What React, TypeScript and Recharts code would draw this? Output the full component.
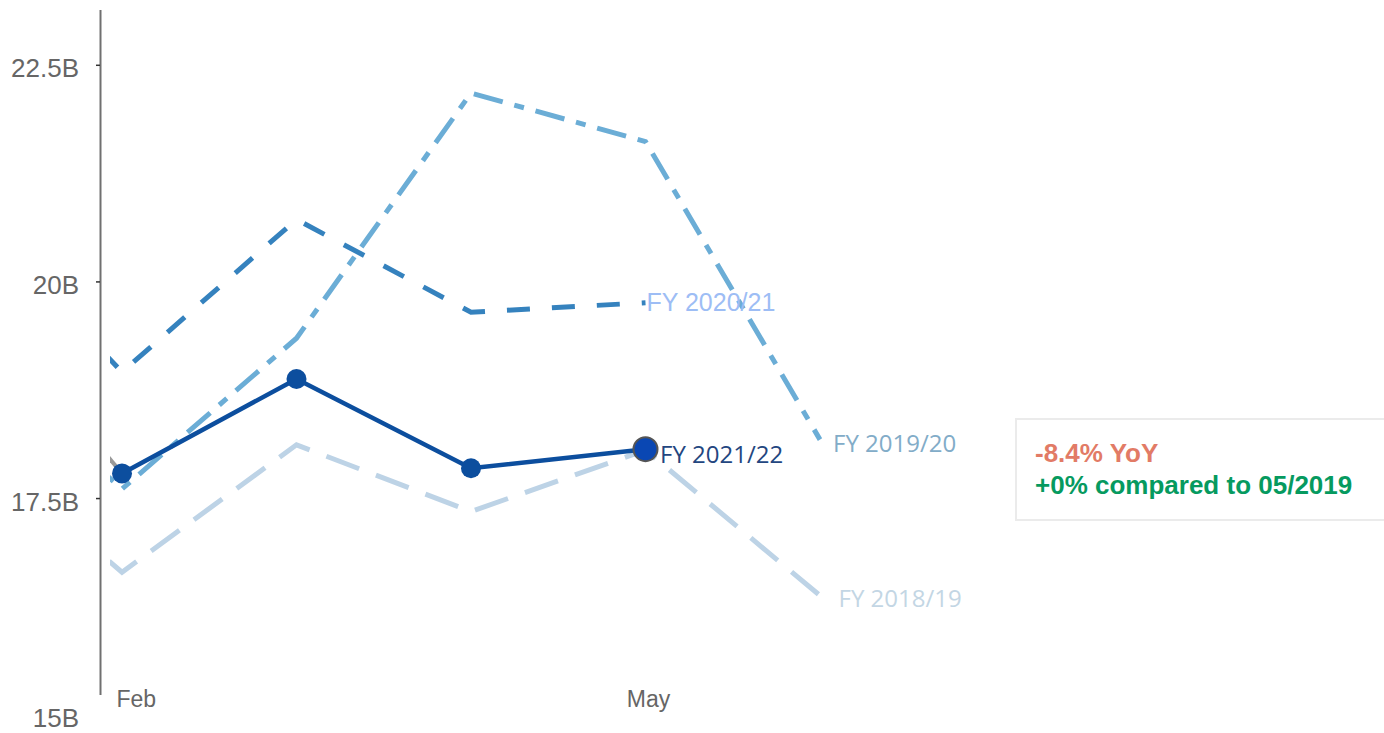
import React from 'react';
import { LineChart, Line, XAxis, YAxis, ReferenceLine } from 'recharts';

// ---- data ----
const months = [1, 2, 3, 4, 5, 6];
const monthNames = ['Jan', 'Feb', 'Mar', 'Apr', 'May', 'Jun'];
const xTicks = [2, 5];
const yTicks = [15, 17.5, 20, 22.5];

const fy2122 = [null, 17.79, 18.88, 17.85, 18.07, null];
const fy2122Lead = [20.2, 17.79, null, null, null, null];
const fy2021 = [21.1, 18.96, 20.72, 19.65, 19.76, null];
const fy1920 = [19.4, 17.61, 19.35, 22.18, 21.62, 18.18];
const fy1819 = [18.36, 16.65, 18.12, 17.35, 18.06, 16.38];

const seriesLabels = {
  fy2122: 'FY 2021/22',
  fy2021: 'FY 2020/21',
  fy1920: 'FY 2019/20',
  fy1819: 'FY 2018/19',
};

const yoyText = '-8.4% YoY';
const cmpText = '+0% compared to 05/2019';

const data = months.map((m, i) => ({
  m,
  fy2122: fy2122[i],
  fy2122Lead: fy2122Lead[i],
  fy2021: fy2021[i],
  fy1920: fy1920[i],
  fy1819: fy1819[i],
}));

const lastIndex = (arr: (number | null)[]) => {
  let k = -1;
  arr.forEach((v, i) => {
    if (v != null) k = i;
  });
  return k;
};

// ---- axis extents ----
const Y_MIN = 15.233;
const Y_MAX = 23.138;
const X_MIN = 1.9312;
const X_MAX = 6.0573;
const AXIS_X = 1.8768;

const AXIS_FONT = '"Liberation Sans", Arial, sans-serif';
const LABEL_FONT = '"Open Sans", "Noto Sans", sans-serif';

const YTick = (props: any) => {
  const { x, y, payload } = props;
  const v = payload.value;
  const inside = v >= Y_MIN && v <= Y_MAX;
  return (
    <g>
      {inside && (
        <line x1={x - 14} x2={x - 10} y1={y} y2={y} stroke="#333" strokeWidth={1.5} />
      )}
      <text
        x={x - 31}
        y={y}
        dy={12}
        textAnchor="end"
        fill="#666"
        fontSize={26}
        fontFamily={AXIS_FONT}
      >
        {`${v}B`}
      </text>
    </g>
  );
};

const XTick = (props: any) => {
  const { x, y, payload, index } = props;
  const first = index === 0;
  return (
    <text
      x={first ? x - 5.5 : x + 3}
      y={y}
      dy={11.5}
      textAnchor={first ? 'start' : 'middle'}
      fill="#666"
      fontSize={23}
      fontFamily={AXIS_FONT}
    >
      {monthNames[payload.value - 1]}
    </text>
  );
};

const makeLabel =
  (arr: (number | null)[], text: string, dx: number, dy: number, color: string, font: string, size: number) =>
  (props: any) => {
    const { x, y, index } = props;
    if (index !== lastIndex(arr) || x == null || y == null) return <g />;
    return (
      <text x={x + dx} y={y + dy} fill={color} fontSize={size} fontFamily={font} textAnchor="start">
        {text}
      </text>
    );
  };

const mainDot = (props: any) => {
  const { cx, cy, index } = props;
  if (cx == null || cy == null) return <g key={`d${index}`} />;
  if (index === lastIndex(fy2122)) {
    return <circle key={`d${index}`} cx={cx} cy={cy} r={12} fill="#0a47b3" stroke="#555" strokeWidth={2} />;
  }
  return <circle key={`d${index}`} cx={cx} cy={cy} r={10} fill="#0c4e9e" stroke="none" />;
};

export default function App() {
  return (
    <div style={{ position: 'absolute', width: 1376, height: 725, overflow: 'hidden' }}>
      <LineChart
        width={1000}
        height={725}
        data={data}
        margin={{ top: 2, right: 178, bottom: 0, left: 0 }}
      >
        <XAxis
          type="number"
          dataKey="m"
          domain={[X_MIN, X_MAX]}
          allowDataOverflow
          ticks={xTicks}
          interval={0}
          axisLine={false}
          tickLine={false}
          tickSize={0}
          tickMargin={0}
          height={38}
          tick={XTick}
        />
        <YAxis
          type="number"
          domain={[Y_MIN, Y_MAX]}
          allowDataOverflow
          ticks={yTicks}
          interval={0}
          axisLine={false}
          tickLine={false}
          tickSize={0}
          tickMargin={0}
          width={102}
          tick={YTick}
        />
        <ReferenceLine
          segment={[
            { x: AXIS_X, y: Y_MIN },
            { x: AXIS_X, y: Y_MAX },
          ]}
          ifOverflow="visible"
          stroke="#707070"
          strokeWidth={2}
        />
        <Line
          dataKey="fy1819"
          stroke="#bdd3e6"
          strokeWidth={5}
          strokeDasharray="35 18"
          dot={false}
          activeDot={false}
          isAnimationActive={false}
          label={makeLabel(fy1819, seriesLabels.fy1819, 18.5, 11, '#c3d6e4', LABEL_FONT, 24)}
        />
        <Line
          dataKey="fy2021"
          stroke="#3582be"
          strokeWidth={5}
          strokeDasharray="23 22"
          dot={false}
          activeDot={false}
          isAnimationActive={false}
          label={makeLabel(fy2021, seriesLabels.fy2021, 1, 8, '#9dbdf5', AXIS_FONT, 25)}
        />
        <Line
          dataKey="fy1920"
          stroke="#6badd6"
          strokeWidth={5}
          strokeDasharray="30 12 10 12"
          dot={false}
          activeDot={false}
          isAnimationActive={false}
          label={makeLabel(fy1920, seriesLabels.fy1920, 13, 12.5, '#82acc8', LABEL_FONT, 24)}
        />
        <Line
          dataKey="fy2122Lead"
          stroke="#9a9a9a"
          strokeWidth={4}
          dot={false}
          activeDot={false}
          isAnimationActive={false}
        />
        <Line
          dataKey="fy2122"
          stroke="#0c4e9e"
          strokeWidth={4.5}
          dot={mainDot}
          activeDot={false}
          isAnimationActive={false}
          label={makeLabel(fy2122, seriesLabels.fy2122, 14.5, 13.7, '#23467f', LABEL_FONT, 24)}
        />
      </LineChart>
      <div
        style={{
          position: 'absolute',
          left: 1007,
          top: 410,
          width: 400,
          height: 103,
          boxSizing: 'border-box',
          border: '2px solid #ebebeb',
          padding: '17px 18px 0 18px',
          fontFamily: AXIS_FONT,
          fontWeight: 'bold',
          fontSize: 26,
          lineHeight: '32px',
          whiteSpace: 'nowrap',
          background: '#fff',
        }}
      >
        <div style={{ color: '#e27b66' }}>{yoyText}</div>
        <div style={{ color: '#069a5f' }}>{cmpText}</div>
      </div>
    </div>
  );
}
